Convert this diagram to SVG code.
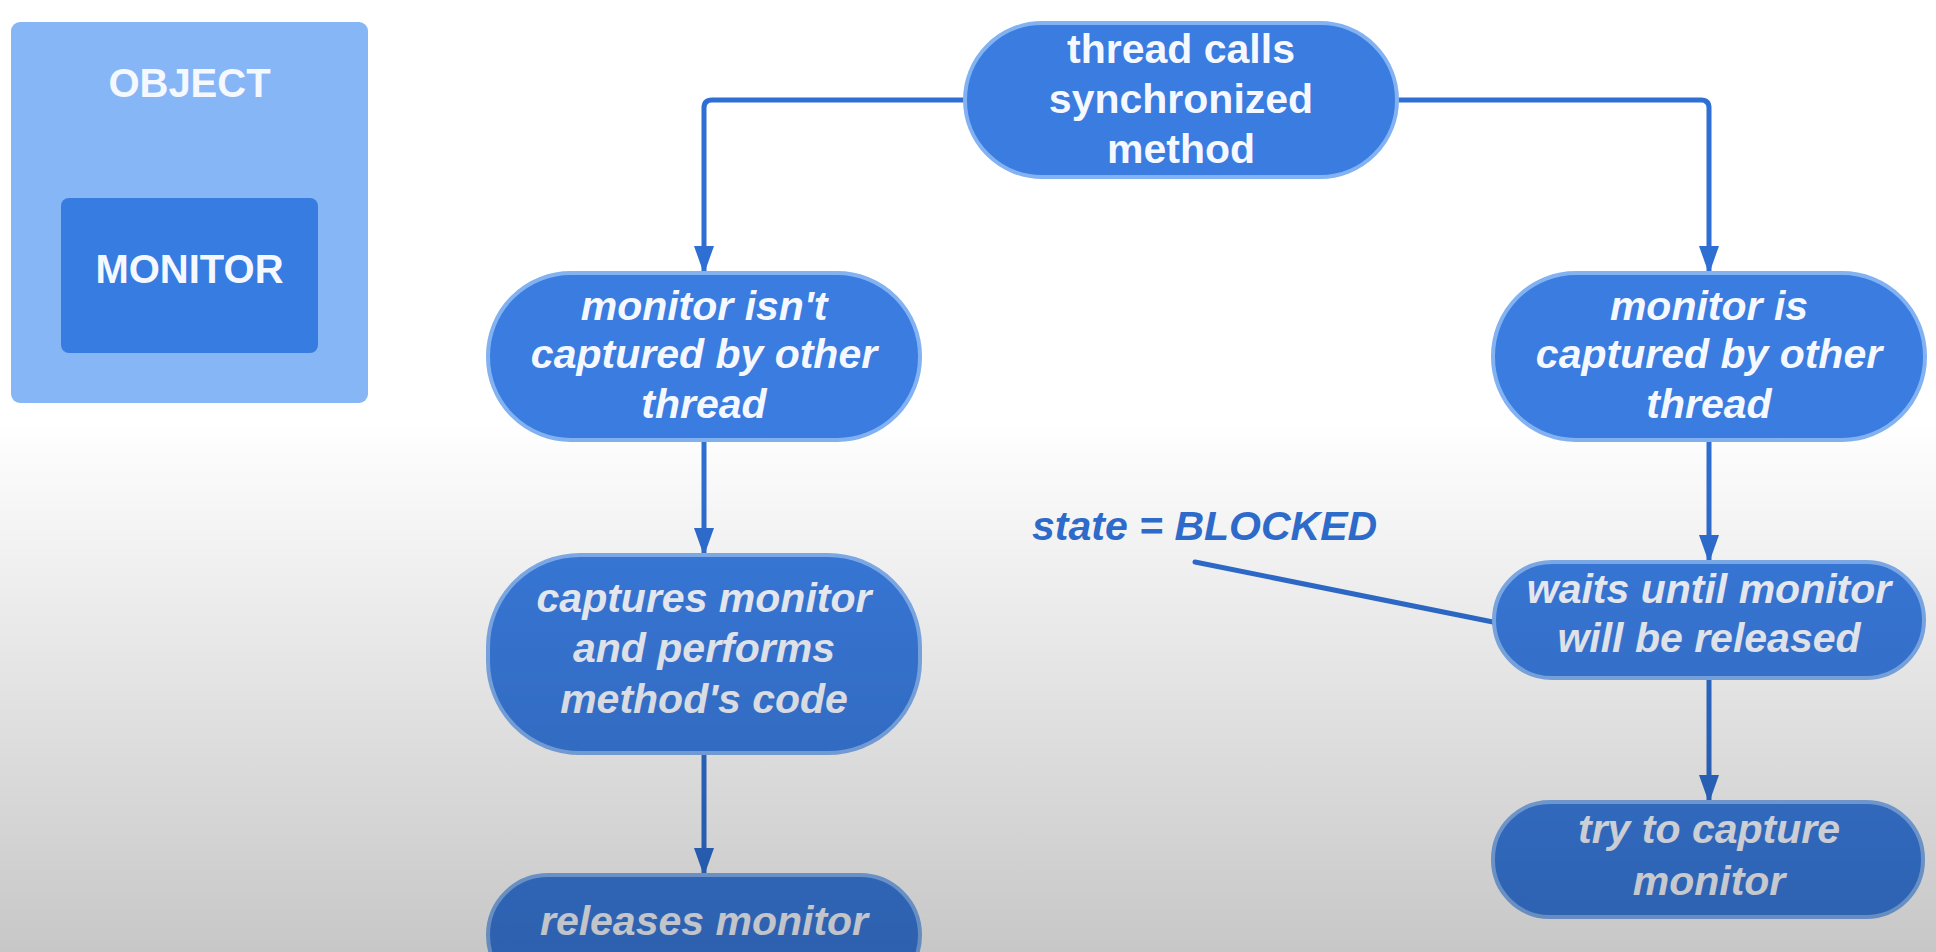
<svg xmlns="http://www.w3.org/2000/svg" width="1936" height="952" viewBox="0 0 1936 952">
<defs>
<style>
.node rect{fill:#3a7ce0;stroke:#82b2f2;stroke-width:4}
.t{font-family:"Liberation Sans",Arial,sans-serif;font-weight:bold;font-size:41px;fill:#f5f8ff;text-anchor:middle}
.i{font-style:italic}
.conn path{fill:none;stroke:#2f6fd3;stroke-width:5}
</style>
<marker id="arr" markerUnits="userSpaceOnUse" markerWidth="28" markerHeight="20" viewBox="0 0 28 20" refX="27" refY="10" orient="auto">
<path d="M0,0 L28,10 L0,20 z" fill="#2f6fd3"/>
</marker>
<linearGradient id="shade" x1="0" y1="0" x2="0" y2="1">
<stop offset="0" stop-color="#000" stop-opacity="0"/>
<stop offset="1" stop-color="#000" stop-opacity="0.22"/>
</linearGradient>
</defs>
<rect width="1936" height="952" fill="#ffffff"/>

<g id="object">
<rect x="11" y="22" width="357" height="381" rx="9" fill="#86b6f6"/>
<text class="t" x="189.5" y="97" style="font-size:40px">OBJECT</text>
<g id="monitor">
<rect x="61" y="198" width="257" height="155" rx="8" fill="#377ce0"/>
<text class="t" x="189.5" y="283" style="font-size:40px">MONITOR</text>
</g>
</g>

<g id="connectors" class="conn">
<path d="M965,100 H712 Q704,100 704,108 V273" marker-end="url(#arr)"/>
<path d="M1397,100 H1701 Q1709,100 1709,108 V273" marker-end="url(#arr)"/>
<path d="M704,440 V555" marker-end="url(#arr)"/>
<path d="M704,753 V875" marker-end="url(#arr)"/>
<path d="M1709,440 V562" marker-end="url(#arr)"/>
<path d="M1709,678 V802" marker-end="url(#arr)"/>
<path d="M1195,562 L1493,622" stroke-width="6" stroke-linecap="round"/>
</g>

<g id="n-start" class="node">
<rect x="965" y="23" width="432" height="154" rx="77"/>
<text class="t" x="1181" y="63">thread calls</text>
<text class="t" x="1181" y="113">synchronized</text>
<text class="t" x="1181" y="163">method</text>
</g>

<g id="n-free" class="node">
<rect x="488" y="273" width="432" height="167" rx="83"/>
<text class="t i" x="704" y="320">monitor isn't</text>
<text class="t i" x="704" y="368">captured by other</text>
<text class="t i" x="704" y="418">thread</text>
</g>

<g id="n-busy" class="node">
<rect x="1493" y="273" width="432" height="167" rx="83"/>
<text class="t i" x="1709" y="320">monitor is</text>
<text class="t i" x="1709" y="368">captured by other</text>
<text class="t i" x="1709" y="418">thread</text>
</g>

<g id="n-capture" class="node">
<rect x="488" y="555" width="432" height="198" rx="92"/>
<text class="t i" x="704" y="612">captures monitor</text>
<text class="t i" x="704" y="662">and performs</text>
<text class="t i" x="704" y="713">method's code</text>
</g>

<g id="n-wait" class="node">
<rect x="1494" y="562" width="430" height="116" rx="58"/>
<text class="t i" x="1709" y="603">waits until monitor</text>
<text class="t i" x="1709" y="652">will be released</text>
</g>

<g id="n-release" class="node">
<rect x="488" y="875" width="432" height="120" rx="60"/>
<text class="t i" x="704" y="935">releases monitor</text>
</g>

<g id="n-try" class="node">
<rect x="1493" y="802" width="430" height="115" rx="57"/>
<text class="t i" x="1709" y="843">try to capture</text>
<text class="t i" x="1709" y="895">monitor</text>
</g>

<g id="label-state">
<text x="1032" y="540" font-family="'Liberation Sans', Arial, sans-serif" font-weight="bold" font-style="italic" font-size="41" fill="#2f6fd3">state = BLOCKED</text>
</g>

<rect x="0" y="420" width="1936" height="532" fill="url(#shade)"/>
</svg>
